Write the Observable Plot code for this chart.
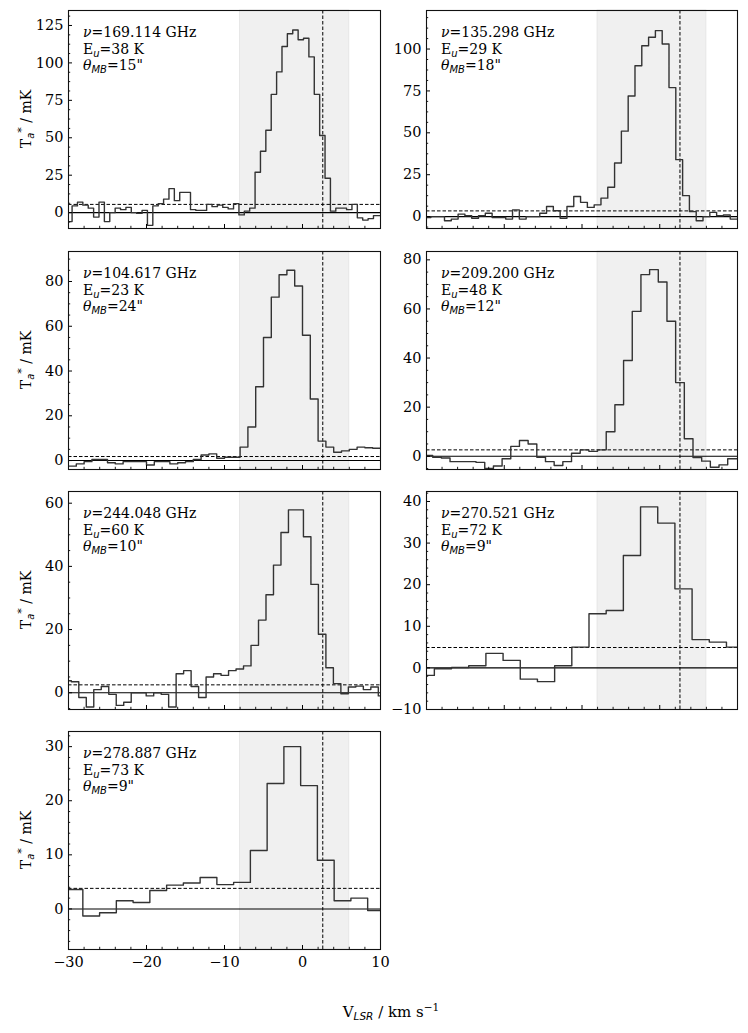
<!DOCTYPE html>
<html><head><meta charset="utf-8">
<script src="https://cdn.jsdelivr.net/npm/d3@7"></script>
<script src="https://cdn.jsdelivr.net/npm/@observablehq/plot@0.6"></script>
<style>
body{margin:0;background:#fff;}
#fig{position:relative;width:748px;height:1033px;font-family:"DejaVu Serif";color:#000;}
#fig svg{position:absolute;overflow:visible;}
#xlabel{position:absolute;left:291px;width:200px;top:1001px;text-align:center;font-size:15px;white-space:nowrap;}
#xlabel sub{font-family:"DejaVu Sans";font-style:italic;font-size:10.5px;vertical-align:-3px;}
#xlabel sup{font-size:10.5px;vertical-align:6px;}
</style></head><body><div id="fig"><div id="xlabel">V<sub>LSR</sub> / km s<sup>−1</sup></div></div>
<script>
// ---- data ----
const freqs = ["169.114", "135.298", "104.617", "209.200", "244.048", "270.521", "278.887"];
const eUpper = [38, 29, 23, 48, 60, 72, 73];
const beams = [15, 18, 24, 12, 10, 9, 9];
// first channel edge and channel width (km/s) of each spectrum
const chanStart = [-30.23, -30.31, -30.0, -30.32, -30.6, -31.2, -30.31];
const chanWidth = [0.69, 0.875, 1.0, 1.116, 0.96, 2.21, 2.148];
const spec169 = [-6, 4.5, 7, 5, 3, -3, 7, -6, 0, 3, 2, 3.5, 0, -0.5, 1.5, -8.5, 4.5, 6, 9, 16, 8, 13.5, 13.5, 2, 1.5, 1.5, 5.5, 4, 5, 3.5, 2.5, 6, -1.5, 1, 3, 27, 41, 55, 79, 94, 111, 119.5, 122, 115.5, 116.5, 104, 79, 51.5, 23, 1, 3, 3, 2, 5.5, -3.5, -5, -4, -2, -2];
const spec135 = [-0.5, 0, 0, -2.5, -1.5, 1.5, 0.5, -1, 0.5, 2, -0.5, -0.5, -1.5, 4, -1.5, 0, 0, 2, 6, 3.5, -1, 6, 12, 8.5, 5.5, 7, 11, 17.5, 32, 51, 72, 90, 102, 107, 111, 103, 77, 34, 12.5, 3, -2.5, 0, 2.5, 0.5, 1, -1.5, -1.5];
const spec104 = [-2.5, -1.5, -0.5, 0.5, 0.5, -1, -1.5, -0.5, -0.5, -0.5, -2, -0.5, -0.5, -1.5, -1, -0.5, 0.5, 2.5, 3, 1, 1.5, 1.5, 6, 15, 33, 55, 73, 83, 85, 78, 56, 27.5, 8.7, 6, 3.7, 4.3, 5, 6, 5.7, 5.5];
const spec209 = [0.3, -0.4, -0.7, -2.2, -2.2, -2.2, -2.5, -5, -4, -1, 4, 6.4, 5, -0.4, -2.2, -3.8, -2.2, 1.2, 2.6, 2, 2.6, 10, 21, 39, 59, 74, 76, 71, 55, 30, 7.1, -0.5, -2, -4.5, -3.5, -1, -1];
const spec244 = [3.8, 3.5, -1.5, -4.5, 1, 2, -0.5, -4, -3, 0, 0, -1, 0, -0.5, -4.5, 6, 7, 2, -1.5, 5, 6, 5.5, 7, 7.5, 8.5, 15, 23, 31, 40.4, 50.7, 57.9, 57.9, 49.4, 34.3, 18.5, 7.9, 2.9, -0.3, 1.8, 2.1, 1, 1.8, -1];
const spec270 = [-1.8, -0.2, 0.1, 0.5, 3.5, 1.8, -2.7, -3.3, 0.5, 5, 13, 13.8, 27, 38.7, 34.8, 19, 6.8, 6.2, 5];
const spec278 = [3.6, -1.3, -0.7, 1.5, 1.2, 3.4, 4.4, 4.8, 5.8, 4.5, 4.9, 10.8, 23.2, 30, 22.8, 9, 1.5, 2, -0.3];
const spectra = [spec169, spec135, spec104, spec209, spec244, spec270, spec278];
const noise3 = [5.5, 3.4, 1.8, 2.6, 2.5, 4.9, 3.8];
const yLimits = [[-10.6, 135], [-7.1, 123], [-4, 93.4], [-5.4, 83.4], [-5.3, 63.7], [-10, 42.4], [-7.5, 32.8]];
const yMajor = [[0, 25, 50, 75, 100, 125], [0, 25, 50, 75, 100], [0, 20, 40, 60, 80], [0, 20, 40, 60, 80], [0, 20, 40, 60], [-10, 0, 10, 20, 30, 40], [0, 10, 20, 30]];
const yMinorStep = [6.25, 6.25, 5, 5, 5, 2, 2];
const xMajor = [-30, -20, -10, 0, 10];
const xMinorStep = 2;
const xLimits = [-30, 10];
const velWindow = [-8, 6];
const vSystemic = 2.6;

// ---- layout ----
const fig = document.getElementById("fig");
const colX = [0, 375], colW = [385, 373], colML = [68, 51], colMR = [5, 11];
const rowTop = [10, 251, 491, 731];
const FH = 218, MT = 10;

function minorTicks(lim, step, majors) {
  const out = [];
  const s = Math.ceil(lim[0] / step - 1e-9);
  for (let k = s; k * step <= lim[1] + 1e-9; k++) {
    const v = +(k * step).toFixed(4);
    if (!majors.some(m => Math.abs(m - v) < 1e-6)) out.push(v);
  }
  return out;
}

spectra.forEach((spec, i) => {
  const col = i % 2, row = Math.floor(i / 2);
  const last = i === 6;
  const MB = last ? 45 : 10;
  const W = colW[col], ML = colML[col], MR = colMR[col];
  const FW = W - ML - MR;
  const pts = spec.map((t, k) => ({v: chanStart[i] + k * chanWidth[i], t}));
  pts.push({v: chanStart[i] + spec.length * chanWidth[i], t: spec[spec.length - 1]});
  const yl = yLimits[i];
  const xMinor = minorTicks(xLimits, xMinorStep, xMajor);
  const yMinor = minorTicks(yl, yMinorStep[i], yMajor[i]);
  const marks = [
    Plot.rect([velWindow], {x1: d => d[0], x2: d => d[1], y1: () => yl[0], y2: () => yl[1], fill: "#f0f0f0", stroke: "#e3e3e3", strokeWidth: 0.8}),
    Plot.ruleY([0], {stroke: "#000", strokeWidth: 1.1}),
    Plot.ruleY([noise3[i]], {stroke: "#000", strokeWidth: 1, strokeDasharray: "3.5,2"}),
    Plot.ruleX([vSystemic], {stroke: "#000", strokeWidth: 1, strokeDasharray: "3.5,2"}),
    Plot.line(pts, {x: "v", y: "t", curve: "step-after", stroke: "#333", strokeWidth: 1.4, clip: true}),
    Plot.ruleX(xMajor, {insetTop: FH - 4, stroke: "#000", strokeWidth: 1}),
    Plot.ruleX(xMinor, {insetTop: FH - 2.2, stroke: "#000", strokeWidth: 0.9}),
    Plot.ruleY(yMajor[i], {insetRight: FW - 4, stroke: "#000", strokeWidth: 1}),
    Plot.ruleY(yMinor, {insetRight: FW - 2.2, stroke: "#000", strokeWidth: 0.9}),
    Plot.axisY(yMajor[i], {tickSize: 0, tickPadding: 5, label: null, fontSize: 14.5}),
    Plot.frame({stroke: "#111", strokeWidth: 1.1})
  ];
  if (last) marks.push(Plot.axisX(xMajor, {tickSize: 0, tickPadding: 7, label: null, fontSize: 14.5}));
  const svgEl = Plot.plot({
    width: W, height: MT + FH + MB,
    marginLeft: ML, marginRight: MR, marginTop: MT, marginBottom: MB,
    x: {domain: xLimits, axis: null},
    y: {domain: yl, axis: null},
    style: {fontFamily: "DejaVu Serif", fontSize: "14.5px", color: "#000", background: "transparent", overflow: "visible"},
    marks
  });
  svgEl.style.left = colX[col] + "px";
  svgEl.style.top = (rowTop[row] - MT) + "px";
  fig.appendChild(svgEl);

  const svg = d3.select(svgEl);
  // annotation
  const g = svg.append("g").attr("font-family", "DejaVu Serif").attr("font-size", 14).attr("fill", "#000").attr("text-anchor", "start");
  const ax = ML + 15, ay = MT + 27, lh = 16.5;
  const t1 = g.append("text").attr("x", ax).attr("y", ay);
  t1.append("tspan").attr("font-style", "italic").text("ν");
  t1.append("tspan").text("=" + freqs[i] + " GHz");
  const t2 = g.append("text").attr("x", ax).attr("y", ay + lh);
  t2.append("tspan").text("E");
  t2.append("tspan").attr("font-family", "DejaVu Sans").attr("font-style", "italic").attr("font-size", 10).attr("dy", 3).text("u");
  t2.append("tspan").attr("dy", -3).text("=" + eUpper[i] + " K");
  const t3 = g.append("text").attr("x", ax).attr("y", ay + 2 * lh);
  t3.append("tspan").attr("font-style", "italic").text("θ");
  t3.append("tspan").attr("font-family", "DejaVu Sans").attr("font-style", "italic").attr("font-size", 10).attr("dy", 3).text("MB");
  t3.append("tspan").attr("dy", -3).text("=" + beams[i] + "\"");

  // y label on the left column
  if (col === 0) {
    const yt = svg.append("text")
      .attr("transform", `translate(${31 - colX[col]},${MT + FH / 2}) rotate(-90)`)
      .attr("text-anchor", "middle").attr("font-family", "DejaVu Serif").attr("font-size", 14).attr("fill", "#000");
    yt.append("tspan").text("T");
    yt.append("tspan").attr("font-family", "DejaVu Sans").attr("font-style", "italic").attr("font-size", 10).attr("dy", 3).text("a");
    yt.append("tspan").attr("font-size", 11).attr("dy", -9).text("*");
    yt.append("tspan").attr("dy", 6).text(" / mK");
  }
});
</script></body></html>
